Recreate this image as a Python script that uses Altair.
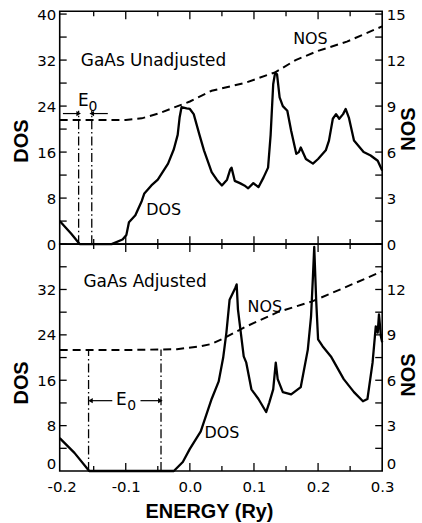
import altair as alt
import pandas as pd

# ---------------- data ----------------
top_dos_e = [-0.203, -0.185, -0.172, -0.122, -0.105, -0.099, -0.095, -0.085, -0.075, -0.071,
             -0.06, -0.05, -0.034, -0.025, -0.019, -0.016, -0.013, -0.005, 0.0, 0.006,
             0.015, 0.022, 0.034, 0.042, 0.05, 0.058, 0.063, 0.065, 0.07, 0.078,
             0.085, 0.091, 0.099, 0.107, 0.115, 0.122, 0.126, 0.13, 0.133, 0.136,
             0.14, 0.145, 0.152, 0.158, 0.166, 0.17, 0.173, 0.181, 0.192, 0.2,
             0.212, 0.217, 0.223, 0.228, 0.233, 0.239, 0.243, 0.248, 0.256, 0.271,
             0.282, 0.293, 0.3]
top_dos_v = [4.0, 1.8, 0.0, 0.0, 0.8, 1.6, 3.8, 5.0, 7.5, 8.8,
             10.2, 11.2, 14.0, 16.5, 19.0, 22.0, 23.8, 23.6, 23.5, 22.6,
             19.0, 16.3, 12.5, 11.2, 10.2, 11.2, 13.0, 13.3, 11.0, 10.6,
             10.2, 9.7, 10.6, 9.9, 11.6, 13.3, 19.0, 27.8, 29.8, 29.5,
             25.5, 24.0, 23.2, 19.7, 15.7, 16.0, 16.8, 14.8, 14.0, 14.8,
             16.3, 18.0, 21.8, 22.6, 21.8, 22.6, 23.5, 22.0, 18.0, 16.0,
             15.4, 14.5, 12.8]
top_nos_e = [-0.203, -0.15, -0.1, -0.075, -0.05, -0.025, 0.0, 0.034, 0.085, 0.133,
             0.165, 0.2, 0.245, 0.3]
top_nos_v = [8.1, 8.1, 8.1, 8.2, 8.5, 8.9, 9.3, 10.0, 10.5, 11.2,
             12.0, 12.6, 13.2, 14.2]

bot_dos_e = [-0.203, -0.18, -0.157, -0.025, -0.011, 0.0, 0.017, 0.034, 0.045, 0.052,
             0.057, 0.062, 0.068, 0.071, 0.073, 0.075, 0.084, 0.088, 0.096, 0.107,
             0.119, 0.124, 0.13, 0.134, 0.137, 0.145, 0.158, 0.173, 0.184, 0.189,
             0.192, 0.194, 0.197, 0.2, 0.207, 0.22, 0.24, 0.256, 0.27, 0.277,
             0.285, 0.29, 0.293, 0.295, 0.298, 0.3]
bot_dos_v = [5.8, 3.2, 0.0, 0.0, 1.6, 3.9, 7.0, 12.7, 15.8, 20.0,
             24.4, 30.2, 31.6, 32.3, 32.9, 28.5, 20.2, 19.1, 14.4, 12.7,
             10.4, 12.1, 14.4, 19.1, 16.2, 13.9, 13.5, 14.8, 21.4, 27.2,
             34.3, 39.5, 30.2, 23.2, 22.0, 20.2, 16.2, 13.9, 12.3, 12.7,
             19.1, 25.5, 24.4, 27.6, 23.7, 22.7]
bot_nos_e = [-0.203, -0.1, -0.02, 0.017, 0.034, 0.054, 0.085, 0.137, 0.19, 0.24, 0.3]
bot_nos_v = [8.0, 8.0, 8.05, 8.25, 8.4, 8.8, 9.5, 10.5, 11.2, 12.1, 13.2]

# E0 marker lines (energy, height in DOS units)
top_e0_e = [-0.1735, -0.153]
top_e0_h = [23.2, 23.2]
bot_e0_e = [-0.158, -0.045]
bot_e0_h = [21.4, 21.4]

# arrows: tail energy, head energy, DOS level
top_arrow_tail = [-0.198, -0.128]
top_arrow_head = [-0.1735, -0.153]
top_arrow_y = [22.7, 22.7]
bot_arrow_tail = [-0.121, -0.077]
bot_arrow_head = [-0.155, -0.046]
bot_arrow_y = [12.4, 12.4]

# annotation texts
top_title = ["GaAs  Unadjusted"]
bot_title = ["GaAs  Adjusted"]
top_labels = ["NOS", "DOS"]
top_labels_e = [0.188, -0.041]
top_labels_v = [35.6, 5.9]
bot_labels = ["NOS", "DOS"]
bot_labels_e = [0.117, 0.050]
bot_labels_v = [28.9, 6.7]
# E0 symbol: letter and subscript
top_e0_lbl = ["E", "0"]
top_e0_lbl_e = [-0.166, -0.166]
top_e0_lbl_v = [24.9, 24.9]
bot_e0_lbl = ["E", "0"]
bot_e0_lbl_e = [-0.107, -0.107]
bot_e0_lbl_v = [12.5, 12.5]

x_major = [-0.1, 0.0, 0.1, 0.2]
x_minor = [-0.15, -0.05, 0.05, 0.15, 0.25]
x_labels = [-0.2, -0.1, 0.0, 0.1, 0.2, 0.3]
y_ticks = [4, 8, 12, 16, 20, 24, 28, 32, 36, 40]

W = 324
XDOM = [-0.203, 0.3]
LABEL_FONT = "DejaVu Sans"
TITLE_FONT = "Liberation Sans"


def panel(H, dos_dom, nos_dom, dos_e, dos_v, nos_e, nos_v, e0_e, e0_h,
          a_tail, a_head, a_y, title, title_e, title_v, labels, labels_e, labels_v,
          e0_lbl, e0_lbl_e, e0_lbl_v, sub_dx,
          bottom, left_vals, right_vals, dos_title_y, nos_title_y):
    xs = alt.Scale(domain=XDOM, nice=False, zero=False)
    ys = alt.Scale(domain=dos_dom, nice=False, zero=False)
    ns = alt.Scale(domain=nos_dom, nice=False, zero=False)

    def X(field):
        if bottom:
            return alt.X(field, type="quantitative", scale=xs)
        return alt.X(field, type="quantitative", scale=xs, axis=None)

    def Y(field):
        return alt.Y(field, type="quantitative", scale=ys)

    if bottom:
        xaxis = alt.Axis(values=x_labels, ticks=False, domain=False, grid=False,
                         labelExpr="replace(format(datum.value, '.1f'), '\u2212', '-')",
                         labelPadding=9, labelFlush=False,
                         title="ENERGY (Ry)", titleX=150, titleY=31, titleBaseline="top")
    else:
        xaxis = None

    dos_df = pd.DataFrame({"e": dos_e, "d": dos_v})
    dos_line = alt.Chart(dos_df).mark_line(color="black", strokeWidth=2.3,
                                           strokeJoin="round").encode(
        x=alt.X("e:Q", scale=xs, axis=xaxis),
        y=alt.Y("d:Q", scale=ys, axis=alt.Axis(
            values=left_vals, ticks=False, domain=False, grid=False, labelPadding=4,
            labelFlush=bottom,
            title="DOS", titleAngle=270, titleBaseline="bottom",
            titleX=-28, titleY=dos_title_y)),
        order="e:Q")

    # inward ticks (axis decoration)
    xmaj = pd.DataFrame({"t": x_major})
    xmin = pd.DataFrame({"t": x_minor})
    ytk = pd.DataFrame({"t": [t for t in y_ticks if t <= dos_dom[1]]})
    tick_layers = []
    for df, L in ((xmaj, 8), (xmin, 5)):
        tick_layers.append(alt.Chart(df).mark_rule(color="black", strokeWidth=1.3).encode(
            x=X("t"), y=alt.value(H), y2=alt.value(H - L)))
        tick_layers.append(alt.Chart(df).mark_rule(color="black", strokeWidth=1.3).encode(
            x=X("t"), y=alt.value(0), y2=alt.value(L)))
    tick_layers.append(alt.Chart(ytk).mark_rule(color="black", strokeWidth=1.3).encode(
        y=Y("t"), x=alt.value(0), x2=alt.value(7)))
    tick_layers.append(alt.Chart(ytk).mark_rule(color="black", strokeWidth=1.3).encode(
        y=Y("t"), x=alt.value(W - 7), x2=alt.value(W)))

    e0_df = pd.DataFrame({"e": e0_e, "h": e0_h, "z": [0] * len(e0_e)})
    e0_rules = alt.Chart(e0_df).mark_rule(color="black", strokeWidth=1.3,
                                          strokeDash=[9, 3, 1.5, 3]).encode(
        x=X("e"), y=Y("z"), y2="h:Q")

    ar_df = pd.DataFrame({"t": a_tail, "h": a_head, "y": a_y,
                          "dir": ["right" if h > t else "left" for t, h in zip(a_tail, a_head)]})
    ar_rules = alt.Chart(ar_df).mark_rule(color="black", strokeWidth=1.2).encode(
        x=X("t"), x2="h:Q", y=Y("y"))
    ar_heads = alt.Chart(ar_df).mark_point(filled=True, color="black", size=28, opacity=1).encode(
        x=X("h"), y=Y("y"),
        shape=alt.Shape("dir:N", scale=alt.Scale(domain=["right", "left"],
                                                 range=["triangle-right", "triangle-left"]),
                        legend=None))

    t_df = pd.DataFrame({"txt": title, "e": [title_e], "v": [title_v]})
    t_mark = alt.Chart(t_df).mark_text(align="left", baseline="middle", font=LABEL_FONT,
                                       fontSize=17, color="black").encode(
        x=X("e"), y=Y("v"), text="txt:N")
    l_df = pd.DataFrame({"txt": labels, "e": labels_e, "v": labels_v})
    l_mark = alt.Chart(l_df).mark_text(align="center", baseline="middle", font=LABEL_FONT,
                                       fontSize=16, color="black").encode(
        x=X("e"), y=Y("v"), text="txt:N")
    e_df = pd.DataFrame({"txt": e0_lbl[:1], "e": e0_lbl_e[:1], "v": e0_lbl_v[:1]})
    s_df = pd.DataFrame({"txt": e0_lbl[1:], "e": e0_lbl_e[1:], "v": e0_lbl_v[1:]})
    e_mark = alt.Chart(e_df).mark_text(align="center", baseline="middle", font=LABEL_FONT,
                                       fontSize=17, color="black").encode(
        x=X("e"), y=Y("v"), text="txt:N")
    s_mark = alt.Chart(s_df).mark_text(align="center", baseline="middle", font=LABEL_FONT,
                                       fontSize=14, color="black", dx=sub_dx, dy=6).encode(
        x=X("e"), y=Y("v"), text="txt:N")

    dos_layer = alt.layer(dos_line, *tick_layers, e0_rules, ar_rules, ar_heads,
                          t_mark, l_mark, e_mark, s_mark)

    nos_df = pd.DataFrame({"e": nos_e, "n": nos_v})
    nos_line = alt.Chart(nos_df).mark_line(color="black", strokeWidth=2.0,
                                           strokeDash=[8, 5]).encode(
        x=X("e"),
        y=alt.Y("n:Q", scale=ns, axis=alt.Axis(
            orient="right", values=right_vals, ticks=False, domain=False, grid=False,
            labelPadding=4, labelFlush=bottom,
            title="NOS", titleAngle=270, titleBaseline="top",
            titleX=16, titleY=nos_title_y)),
        order="e:Q")

    return alt.layer(dos_layer, nos_line).resolve_scale(y="independent").properties(
        width=W, height=H)


top = panel(234, [0, 40.5], [0, 15.1875], top_dos_e, top_dos_v, top_nos_e, top_nos_v,
            top_e0_e, top_e0_h, top_arrow_tail, top_arrow_head, top_arrow_y,
            top_title, -0.170, 31.8, top_labels, top_labels_e, top_labels_v,
            top_e0_lbl, top_e0_lbl_e, top_e0_lbl_v, 9.5,
            False, [0, 8, 16, 24, 32, 40], [0, 3, 6, 9, 12, 15], 130, 118)
bot = panel(228, [0, 40], [0, 15], bot_dos_e, bot_dos_v, bot_nos_e, bot_nos_v,
            bot_e0_e, bot_e0_h, bot_arrow_tail, bot_arrow_head, bot_arrow_y,
            bot_title, -0.166, 33.3, bot_labels, bot_labels_e, bot_labels_v,
            bot_e0_lbl, bot_e0_lbl_e, bot_e0_lbl_v, 10.5,
            True, [0, 8, 16, 24, 32], [0, 3, 6, 9, 12], 139, 131)

chart = alt.vconcat(top, bot, spacing=0, bounds="flush").properties(
    padding={"left": 11, "top": 5, "right": 3, "bottom": 3},
    background="white"
).configure_view(stroke="black", strokeWidth=1.6).configure_axis(
    labelFont=LABEL_FONT, labelFontSize=15, labelColor="black",
    titleFont=TITLE_FONT, titleFontSize=20, titleFontWeight="bold", titleColor="black"
)

chart.save("out.html", embed_options={"renderer": "svg", "actions": False})
